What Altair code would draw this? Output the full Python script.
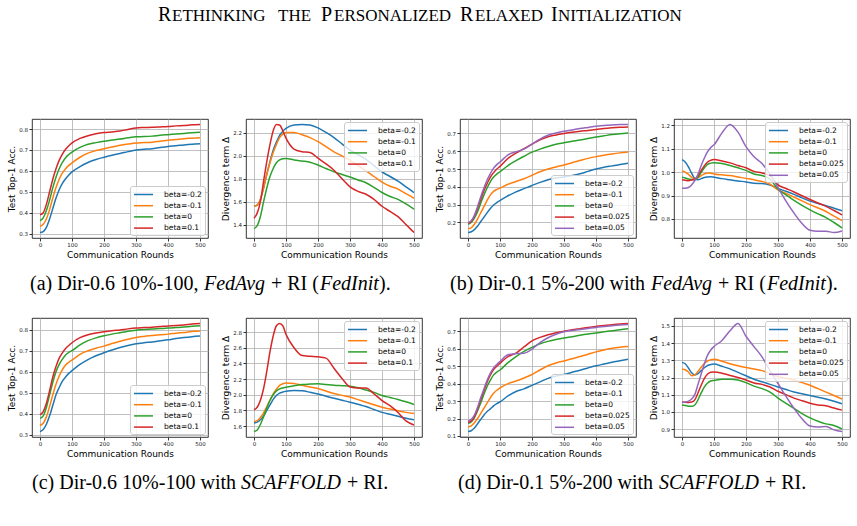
import altair as alt
import pandas as pd

# Communication rounds at which each curve is sampled
ROUNDS = [0, 10, 20, 30, 40, 50, 60, 70, 80, 90, 100, 125, 150, 175, 200,
          225, 250, 275, 300, 325, 350, 375, 400, 425, 450, 475, 500]

BETAS_4 = ["beta=-0.2", "beta=-0.1", "beta=0", "beta=0.1"]
BETAS_5 = ["beta=-0.2", "beta=-0.1", "beta=0", "beta=0.025", "beta=0.05"]
COLORS = ["#1f77b4", "#ff7f0e", "#2ca02c", "#d62728", "#9467bd"]

# ---- (a) Dir-0.6 10%-100, FedAvg + RI ----
a_acc = [
    [.305, .31, .33, .37, .42, .47, .51, .54, .562, .58, .595, .62, .64, .654, .665, .675, .683, .692, .70, .703, .706, .712, .717, .72, .724, .727, .729],
    [.335, .345, .37, .415, .47, .52, .56, .59, .61, .626, .638, .665, .685, .697, .706, .714, .722, .728, .733, .735, .737, .741, .746, .75, .754, .756, .758],
    [.362, .375, .41, .46, .52, .57, .61, .64, .663, .678, .69, .712, .727, .735, .742, .747, .752, .758, .763, .764, .766, .77, .773, .776, .779, .782, .785],
    [.39, .40, .44, .50, .56, .61, .65, .68, .703, .72, .734, .755, .768, .777, .783, .786, .79, .798, .805, .807, .808, .81, .812, .815, .817, .82, .822],
]
a_div = [
    [1.56, 1.57, 1.62, 1.72, 1.84, 1.95, 2.05, 2.12, 2.18, 2.215, 2.24, 2.27, 2.275, 2.27, 2.245, 2.205, 2.16, 2.105, 2.05, 2.01, 1.97, 1.915, 1.86, 1.82, 1.78, 1.73, 1.68],
    [1.56, 1.57, 1.62, 1.72, 1.84, 1.94, 2.03, 2.10, 2.16, 2.19, 2.205, 2.205, 2.185, 2.16, 2.125, 2.08, 2.035, 2.0, 1.96, 1.915, 1.87, 1.82, 1.77, 1.735, 1.71, 1.67, 1.63],
    [1.365, 1.39, 1.47, 1.60, 1.72, 1.82, 1.89, 1.94, 1.965, 1.975, 1.977, 1.965, 1.955, 1.945, 1.92, 1.89, 1.86, 1.838, 1.815, 1.79, 1.765, 1.725, 1.68, 1.645, 1.62, 1.58, 1.535],
    [1.455, 1.50, 1.60, 1.78, 1.95, 2.10, 2.22, 2.275, 2.27, 2.22, 2.155, 2.06, 2.037, 2.03, 1.98, 1.93, 1.875, 1.80, 1.73, 1.69, 1.665, 1.62, 1.56, 1.515, 1.47, 1.40, 1.33],
]

# ---- (b) Dir-0.1 5%-200, FedAvg + RI ----
b_acc = [
    [.143, .148, .16, .18, .205, .23, .255, .278, .298, .312, .323, .35, .372, .39, .408, .425, .44, .45, .455, .464, .474, .487, .50, .51, .518, .526, .533],
    [.165, .17, .19, .22, .255, .29, .325, .355, .375, .386, .393, .415, .43, .446, .465, .485, .50, .512, .523, .536, .548, .56, .57, .578, .585, .591, .596],
    [.19, .20, .225, .26, .31, .355, .395, .43, .455, .472, .485, .52, .547, .572, .595, .612, .627, .64, .648, .656, .663, .672, .68, .687, .694, .699, .703],
    [.195, .205, .235, .28, .33, .38, .42, .455, .48, .50, .515, .56, .59, .615, .64, .665, .682, .692, .70, .707, .713, .717, .722, .728, .732, .735, .737],
    [.20, .21, .24, .29, .345, .395, .44, .475, .505, .525, .54, .58, .597, .612, .64, .668, .69, .703, .713, .72, .728, .734, .74, .745, .748, .75, .751],
]
b_div = [
    [1.053, 1.043, 1.022, .995, .972, .967, .972, .977, .979, .98, .978, .972, .967, .962, .958, .952, .951, .945, .93, .918, .905, .89, .876, .866, .857, .846, .835],
    [1.004, 1.0, .99, .978, .97, .975, .985, .992, .996, .995, .992, .988, .985, .979, .973, .967, .96, .948, .924, .909, .893, .877, .861, .847, .832, .812, .793],
    [.978, .975, .97, .968, .967, .978, .999, 1.018, 1.033, 1.038, 1.04, 1.036, 1.028, 1.018, 1.007, .992, .985, .97, .927, .903, .879, .858, .839, .822, .806, .785, .762],
    [.967, .965, .963, .966, .97, .985, 1.007, 1.027, 1.043, 1.05, 1.053, 1.047, 1.039, 1.028, 1.018, 1.003, .996, .985, .945, .93, .915, .899, .883, .868, .854, .836, .817],
    [.931, .931, .934, .945, .963, .99, 1.028, 1.06, 1.087, 1.105, 1.116, 1.167, 1.203, 1.17, 1.108, 1.065, 1.036, .992, .934, .876, .825, .781, .752, .748, .748, .742, .749],
]

# ---- (c) Dir-0.6 10%-100, SCAFFOLD + RI ----
c_acc = [
    [.315, .325, .35, .39, .44, .49, .525, .555, .575, .592, .605, .635, .658, .676, .69, .703, .715, .725, .733, .738, .742, .747, .752, .758, .763, .767, .770],
    [.345, .355, .385, .435, .49, .54, .58, .61, .632, .645, .655, .683, .70, .712, .722, .734, .745, .755, .763, .768, .772, .776, .779, .783, .787, .791, .794],
    [.378, .39, .43, .49, .55, .60, .635, .66, .68, .692, .70, .728, .748, .761, .771, .779, .786, .793, .798, .801, .803, .806, .808, .81, .813, .816, .819],
    [.395, .41, .45, .51, .575, .625, .665, .69, .71, .725, .738, .762, .776, .784, .79, .795, .799, .804, .808, .81, .812, .815, .818, .82, .823, .827, .83],
]
c_div = [
    [1.64, 1.65, 1.68, 1.73, 1.80, 1.87, 1.94, 1.99, 2.02, 2.035, 2.045, 2.055, 2.05, 2.032, 2.01, 1.982, 1.955, 1.93, 1.905, 1.878, 1.85, 1.812, 1.775, 1.75, 1.725, 1.70, 1.68],
    [1.66, 1.67, 1.71, 1.77, 1.85, 1.93, 2.01, 2.07, 2.12, 2.14, 2.15, 2.145, 2.12, 2.10, 2.08, 2.048, 2.015, 1.992, 1.97, 1.938, 1.905, 1.872, 1.84, 1.818, 1.795, 1.775, 1.76],
    [1.53, 1.55, 1.62, 1.72, 1.83, 1.93, 2.00, 2.05, 2.075, 2.087, 2.095, 2.115, 2.13, 2.136, 2.14, 2.13, 2.12, 2.115, 2.11, 2.09, 2.06, 2.03, 1.99, 1.965, 1.94, 1.91, 1.875],
    [1.809, 1.84, 1.93, 2.08, 2.30, 2.55, 2.75, 2.88, 2.91, 2.88, 2.77, 2.60, 2.50, 2.49, 2.484, 2.467, 2.337, 2.207, 2.10, 2.086, 2.086, 2.012, 1.926, 1.86, 1.774, 1.666, 1.614],
]

# ---- (d) Dir-0.1 5%-200, SCAFFOLD + RI ----
d_acc = [
    [.125, .13, .145, .17, .195, .22, .24, .255, .272, .285, .295, .33, .355, .37, .39, .41, .43, .443, .452, .465, .477, .49, .502, .512, .522, .531, .54],
    [.152, .158, .175, .20, .23, .26, .29, .32, .345, .362, .375, .40, .415, .432, .452, .478, .502, .518, .53, .542, .555, .568, .582, .593, .603, .609, .612],
    [.172, .18, .205, .245, .29, .34, .385, .42, .45, .466, .478, .52, .555, .585, .608, .628, .642, .653, .662, .669, .677, .684, .69, .697, .703, .709, .714],
    [.178, .185, .21, .255, .31, .36, .41, .45, .48, .50, .517, .555, .575, .61, .645, .665, .68, .692, .70, .708, .715, .722, .728, .733, .738, .742, .745],
    [.185, .195, .22, .265, .32, .37, .42, .46, .49, .51, .527, .565, .572, .574, .598, .635, .663, .683, .697, .704, .71, .716, .722, .727, .732, .736, .739],
]
d_div = [
    [1.288, 1.28, 1.255, 1.228, 1.215, 1.222, 1.24, 1.257, 1.27, 1.276, 1.278, 1.265, 1.25, 1.23, 1.21, 1.19, 1.175, 1.16, 1.145, 1.13, 1.115, 1.105, 1.095, 1.085, 1.075, 1.062, 1.047],
    [1.25, 1.245, 1.232, 1.21, 1.215, 1.235, 1.26, 1.282, 1.296, 1.303, 1.307, 1.295, 1.28, 1.268, 1.258, 1.25, 1.24, 1.224, 1.205, 1.196, 1.185, 1.17, 1.155, 1.135, 1.115, 1.095, 1.075],
    [1.04, 1.037, 1.033, 1.032, 1.04, 1.07, 1.11, 1.145, 1.168, 1.18, 1.183, 1.19, 1.19, 1.185, 1.17, 1.15, 1.135, 1.115, 1.08, 1.05, 1.02, .99, .965, .945, .93, .92, .90],
    [1.058, 1.056, 1.055, 1.057, 1.07, 1.11, 1.155, 1.195, 1.22, 1.23, 1.232, 1.225, 1.212, 1.20, 1.185, 1.168, 1.16, 1.145, 1.12, 1.10, 1.08, 1.065, 1.05, 1.04, 1.035, 1.022, 1.01],
    [1.055, 1.057, 1.062, 1.075, 1.10, 1.16, 1.22, 1.28, 1.33, 1.36, 1.38, 1.416, 1.472, 1.515, 1.44, 1.38, 1.32, 1.24, 1.165, 1.09, 1.02, .96, .918, .912, .915, .895, .885],
]

# y tick values per panel
TICKS = {
    "a_acc": [0.3, 0.4, 0.5, 0.6, 0.7, 0.8],
    "a_div": [1.4, 1.6, 1.8, 2.0, 2.2],
    "b_acc": [0.2, 0.3, 0.4, 0.5, 0.6, 0.7],
    "b_div": [0.8, 0.9, 1.0, 1.1, 1.2],
    "c_acc": [0.3, 0.4, 0.5, 0.6, 0.7, 0.8],
    "c_div": [1.6, 1.8, 2.0, 2.2, 2.4, 2.6, 2.8],
    "d_acc": [0.1, 0.2, 0.3, 0.4, 0.5, 0.6, 0.7],
    "d_div": [0.9, 1.0, 1.1, 1.2, 1.3, 1.4, 1.5],
}

ACC_TITLE = "Test Top-1 Acc."
DIV_TITLE = "Divergence term Δ"

# page header (small caps) and sub-figure captions
TITLE_PARTS = [
    (157, "R", 20), (171, "ETHINKING", 17), (277, "THE", 17),
    (320, "P", 20), (333, "ERSONALIZED", 17),
    (459, "R", 20), (474, "ELAXED", 17),
    (550, "I", 20), (557, "NITIALIZATION", 17),
]
TITLE_BASELINE = 20
CAPTION_SIZE = 20
CAPTIONS_TOP = [
    (29, "(a) Dir-0.6 10%-100,", False), (203, "FedAvg", True), (270, "+ RI (", False),
    (319, "FedInit", True), (378, ").", False),
    (449, "(b) Dir-0.1 5%-200 with", False), (650, "FedAvg", True), (717, "+ RI (", False),
    (766, "FedInit", True), (825, ").", False),
]
CAPTIONS_BOTTOM = [
    (31, "(c) Dir-0.6 10%-100 with", False), (240, "SCAFFOLD", True), (346, "+ RI.", False),
    (457, "(d) Dir-0.1 5%-200 with", False), (658, "SCAFFOLD", True), (764, "+ RI.", False),
]
CAPTION_TOP_BASELINE = 289
CAPTION_BOTTOM_BASELINE = 488

# panel geometry
W, H = 176, 119
LEFT, TOP1, TOP2 = 31, 118, 317
COL_GAP, ROW_GAP = 38, TOP2 - TOP1 - H

ONE = pd.DataFrame({"k": [0]})


def panel(series, labels, ytitle, yticks, orient):
    rows = []
    for lab, vals in zip(labels, series):
        for r, v in zip(ROUNDS, vals):
            rows.append({"round": r, "value": v, "beta": lab})
    df = pd.DataFrame(rows)
    allv = [v for s in series for v in s]
    lo, hi = min(allv), max(allv)
    pad = 0.05 * (hi - lo)
    return alt.Chart(df).mark_line(strokeWidth=1.5, interpolate="monotone").encode(
        x=alt.X("round:Q",
                scale=alt.Scale(domain=[-25, 525], nice=False, zero=False),
                axis=alt.Axis(values=[0, 100, 200, 300, 400, 500], format="d",
                              title="Communication Rounds")),
        y=alt.Y("value:Q",
                scale=alt.Scale(domain=[lo - pad, hi + pad], nice=False, zero=False),
                axis=alt.Axis(values=yticks, format=".1f", title=ytitle)),
        color=alt.Color("beta:N",
                        scale=alt.Scale(domain=labels, range=COLORS[:len(labels)]),
                        sort=labels,
                        legend=alt.Legend(orient=orient, title=None)),
    ).properties(width=W, height=H)


def text_layer(x, y, text, size, italic=False, font="Liberation Serif"):
    return alt.Chart(ONE).mark_text(
        text=text, font=font, fontSize=size, align="left", baseline="alphabetic",
        fontStyle="italic" if italic else "normal", color="#000",
    ).encode(x=alt.value(x), y=alt.value(y))


# texts attached to the first panel of each row (coordinates relative to its plot origin)
row1_texts = [text_layer(x - LEFT, TITLE_BASELINE - TOP1, t, s) for x, t, s in TITLE_PARTS]
row1_texts += [text_layer(x - LEFT, CAPTION_TOP_BASELINE - TOP1, t, CAPTION_SIZE, it)
               for x, t, it in CAPTIONS_TOP]
row2_texts = [text_layer(x - LEFT, CAPTION_BOTTOM_BASELINE - TOP2, t, CAPTION_SIZE, it)
              for x, t, it in CAPTIONS_BOTTOM]

# invisible corner marker pinning the page origin
corner = alt.Chart(ONE).mark_rect(opacity=0).encode(
    x=alt.value(-LEFT), x2=alt.value(-LEFT + 1),
    y=alt.value(-TOP1), y2=alt.value(-TOP1 + 1))

p1 = alt.layer(panel(a_acc, BETAS_4, ACC_TITLE, TICKS["a_acc"], "bottom-right"), corner, *row1_texts)
p2 = panel(a_div, BETAS_4, DIV_TITLE, TICKS["a_div"], "top-right")
p3 = panel(b_acc, BETAS_5, ACC_TITLE, TICKS["b_acc"], "bottom-right")
p4 = panel(b_div, BETAS_5, DIV_TITLE, TICKS["b_div"], "top-right")
p5 = alt.layer(panel(c_acc, BETAS_4, ACC_TITLE, TICKS["c_acc"], "bottom-right"), *row2_texts)
p6 = panel(c_div, BETAS_4, DIV_TITLE, TICKS["c_div"], "top-right")
p7 = panel(d_acc, BETAS_5, ACC_TITLE, TICKS["d_acc"], "bottom-right")
p8 = panel(d_div, BETAS_5, DIV_TITLE, TICKS["d_div"], "top-right")

chart = alt.concat(
    p1, p2, p3, p4, p5, p6, p7, p8,
    columns=4, spacing={"row": ROW_GAP, "column": COL_GAP}, bounds="flush",
).resolve_scale(
    x="independent", y="independent", color="independent"
).properties(
    padding=0, background="white"
).configure_view(
    stroke="#000", strokeWidth=0.8
).configure_axis(
    grid=True, gridColor="#b0b0b0", gridWidth=0.8, domain=False,
    tickColor="#000", tickSize=3, tickWidth=0.8,
    labelFont="DejaVu Sans", labelFontSize=5.5, labelColor="#222", labelPadding=1.5,
    titleFont="DejaVu Sans", titleFontSize=9, titleFontWeight="normal", titleColor="#000",
    titlePadding=2,
).configure_legend(
    fillColor="rgba(255,255,255,0.8)", strokeColor="#cccccc", cornerRadius=2.5,
    padding=3, offset=3, labelFont="DejaVu Sans", labelFontSize=7.5, labelColor="#000",
    symbolType="M-2,0H2", symbolStrokeWidth=1.5, symbolSize=90, symbolOffset=5,
    rowPadding=2.2, labelOffset=15,
)

chart.save("out.html", embed_options={"renderer": "svg", "actions": False})
